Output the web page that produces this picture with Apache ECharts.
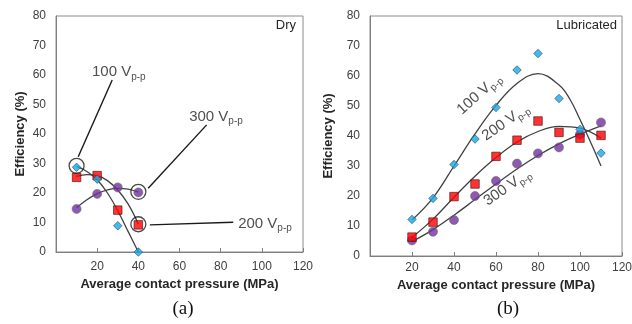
<!DOCTYPE html>
<html><head><meta charset="utf-8">
<script src="https://cdn.jsdelivr.net/npm/echarts@6/dist/echarts.min.js"></script>
<style>html,body{margin:0;padding:0;background:#fff}#c{width:632px;height:324px}</style>
</head><body><div id="c"></div>
<script>
// ---- Data: (a) Dry ----
const dryX = [10, 20, 30, 40];
const dry100 = [28.7, 24.7, 8.9, 0];
const dry200 = [25.3, 25.9, 14.2, 9.2];
const dry300 = [14.6, 19.7, 21.9, 20.2];
// trend curves
const dryFitX = [10, 15, 20, 25, 30, 35, 40];
const dryFit100 = [29, 27.3, 24.5, 20, 14, 7, 0];
const dryFit200 = [25.6, 26.2, 25.9, 24.2, 21, 16.3, 9.5];
const dryFit300 = [15, 17.7, 19.8, 21.1, 21.6, 21.3, 20.3];
// ---- Data: (b) Lubricated ----
const lubX = [20, 30, 40, 50, 60, 70, 80, 90, 100, 110];
const lub100 = [12.2, 19.2, 30.5, 39, 49.5, 62, 67.5, 52.5, 42.2, 34.3];
const lub200 = [6.3, 11.3, 19.8, 24, 33.2, 38.6, 45, 41.2, 39.3, 40.2];
const lub300 = [5.2, 8.1, 12, 20, 25, 30.8, 34.2, 36.2, 40.5, 44.5];
const lubFit100X = [20, 30, 40, 50, 60, 70, 80, 90, 95, 100, 105, 110];
const lubFit100 = [12, 19.4, 30, 40.7, 50.2, 57.5, 60.8, 57, 52.5, 45.5, 38, 30];
const lubFitX = [20, 30, 40, 50, 60, 70, 80, 90, 100, 110];
const lubFit200 = [6.2, 12.3, 19.6, 26.6, 32.8, 38, 41.5, 43.2, 42.6, 39.3];
const lubFit300 = [4.8, 8.8, 13.6, 18.8, 24, 29, 33.5, 37.4, 40.6, 43.4];
// ---- Ticks ----
const xMin = 0, xMax = 120, xStep = 20;
const yMin = 0, yMax = 80, yStep = 10;
// ---- Annotations ----
const dryCircles = [[10, 29.2], [40, 20.4], [40, 9.4]];
const dryLeaders = [[[27.3, 58.3], [10.8, 32.3]], [[73.2, 43.1], [44.8, 21.6]], [[45.6, 9.2], [86.1, 10.1]]];
const dryLabels = [[17.5, 61, '100'], [64.7, 45.9, '300'], [88.5, 9.7, '200']];
const lubLabels = [[52, 54, '100', 42], [64.6, 44.6, '200', 35], [65.4, 22.9, '300', 35]];

const zip = (xs, ys) => xs.map((x, i) => [x, ys[i]]);
const FONT = 'Liberation Sans, Arial, sans-serif';
const curveStyle = { color: '#404040', width: 1.3 };
const mk = {
  d: { symbol: 'diamond', symbolSize: 8.5, itemStyle: { color: '#1aa8e6', borderColor: '#1b4f72', borderWidth: 0.8 } },
  s: { symbol: 'rect', symbolSize: 8.5, itemStyle: { color: '#ff0000', borderColor: '#4a1010', borderWidth: 0.8 } },
  c: { symbol: 'circle', symbolSize: 9, itemStyle: { color: '#7030a0', borderColor: '#6d6d6d', borderWidth: 0.8 } }
};
function xAxis(gi, margin) {
  return { type: 'value', gridIndex: gi, min: xMin, max: xMax, interval: xStep,
    name: 'Average contact pressure (MPa)', nameLocation: 'middle', nameGap: gi === 0 ? 24 : 20,
    nameTextStyle: { fontFamily: FONT, fontSize: 13, fontWeight: 'bold', color: '#262626' },
    axisLine: { show: true, onZero: false, lineStyle: { color: '#7f7f7f', width: 1 } },
    axisTick: { show: true, inside: true, length: 4, lineStyle: { color: '#7f7f7f' } },
    axisLabel: { margin: margin, fontFamily: FONT, fontSize: 12, color: '#404040', formatter: v => v === 0 ? '' : String(v), showMaxLabel: true },
    splitLine: { show: false } };
}
function yAxis(gi, gap) {
  return { type: 'value', gridIndex: gi, min: yMin, max: yMax, interval: yStep,
    name: 'Efficiency (%)', nameLocation: 'middle', nameGap: gap, nameRotate: 90,
    nameTextStyle: { fontFamily: FONT, fontSize: 13, fontWeight: 'bold', color: '#262626' },
    axisLine: { show: true, lineStyle: { color: '#7f7f7f', width: 1 } },
    axisTick: { show: false },
    axisLabel: { margin: 10, fontFamily: FONT, fontSize: 12, color: '#404040' },
    splitLine: { show: false } };
}
const rich = {
  n: { fontFamily: FONT, fontSize: 15, color: '#222', lineHeight: 20 },
  s: { fontFamily: FONT, fontSize: 10, color: '#222', lineHeight: 12, verticalAlign: 'bottom' }
};
const series = [];
function curve(gi, xs, ys) {
  series.push({ type: 'line', xAxisIndex: gi, yAxisIndex: gi, data: zip(xs, ys), smooth: 0.4, showSymbol: false, symbol: 'none', lineStyle: curveStyle, silent: true, z: 2 });
}
function pts(gi, xs, ys, m) {
  series.push(Object.assign({ type: 'scatter', xAxisIndex: gi, yAxisIndex: gi, data: zip(xs, ys), z: 3 }, m));
}
curve(0, dryFitX, dryFit100); curve(0, dryFitX, dryFit200); curve(0, dryFitX, dryFit300);
curve(1, lubFit100X, lubFit100); curve(1, lubFitX, lubFit200); curve(1, lubFitX, lubFit300);
pts(0, dryX, dry300, mk.c); pts(0, dryX, dry200, mk.s); pts(0, dryX, dry100, mk.d);
pts(1, lubX, lub300, mk.c); pts(1, lubX, lub200, mk.s); pts(1, lubX, lub100, mk.d);
// annotation circles
series.push({ type: 'scatter', xAxisIndex: 0, yAxisIndex: 0, data: dryCircles, symbol: 'circle', symbolSize: 15,
  itemStyle: { color: 'rgba(0,0,0,0)', borderColor: '#1a1a1a', borderWidth: 1.3 }, z: 4 });
dryLeaders.forEach(l => series.push({ type: 'line', xAxisIndex: 0, yAxisIndex: 0, data: l, showSymbol: false, symbol: 'none',
  lineStyle: { color: '#1a1a1a', width: 1.4 }, z: 4 }));
series.push({ type: 'scatter', xAxisIndex: 0, yAxisIndex: 0, symbolSize: 1, itemStyle: { color: 'rgba(0,0,0,0)' },
  data: dryLabels.map(d => ({ value: [d[0], d[1]], name: d[2] })),
  label: { show: true, position: 'inside', align: 'left', formatter: p => '{n|' + p.name + ' V}{s|p-p}', rich: rich }, z: 5 });
lubLabels.forEach(d => series.push({ type: 'scatter', xAxisIndex: 1, yAxisIndex: 1, symbolSize: 1, itemStyle: { color: 'rgba(0,0,0,0)' },
  data: [{ value: [d[0], d[1]], name: d[2] }],
  label: { show: true, position: 'inside', rotate: d[3], formatter: p => '{n|' + p.name + ' V}{s|p-p}', rich: rich }, z: 5 }));

const chart = echarts.init(document.getElementById('c'), null, { renderer: 'canvas' });
chart.setOption({
  animation: false,
  backgroundColor: '#fff',
  grid: [
    { left: 56, top: 16, width: 247, height: 236, show: true, borderColor: '#8c8c8c', borderWidth: 1, backgroundColor: 'transparent', containLabel: false, outerBoundsMode: 'none' },
    { left: 370, top: 16, width: 252, height: 240, show: true, borderColor: '#8c8c8c', borderWidth: 1, backgroundColor: 'transparent', containLabel: false, outerBoundsMode: 'none' }
  ],
  xAxis: [xAxis(0, 9), xAxis(1, 6)],
  yAxis: [yAxis(0, 29), yAxis(1, 35)],
  series: series,
  graphic: [
    { type: 'text', right: 632 - 296, top: 19, style: { text: 'Dry', font: '13px ' + FONT, fill: '#262626' } },
    { type: 'text', right: 632 - 617, top: 19, style: { text: 'Lubricated', font: '13px ' + FONT, fill: '#262626' } },
    { type: 'text', x: 183, y: 309, style: { text: '(a)', font: '19px Liberation Serif, Times New Roman, serif', fill: '#111', align: 'center', verticalAlign: 'middle' } },
    { type: 'text', x: 508, y: 309, style: { text: '(b)', font: '19px Liberation Serif, Times New Roman, serif', fill: '#111', align: 'center', verticalAlign: 'middle' } }
  ]
});
</script></body></html>
